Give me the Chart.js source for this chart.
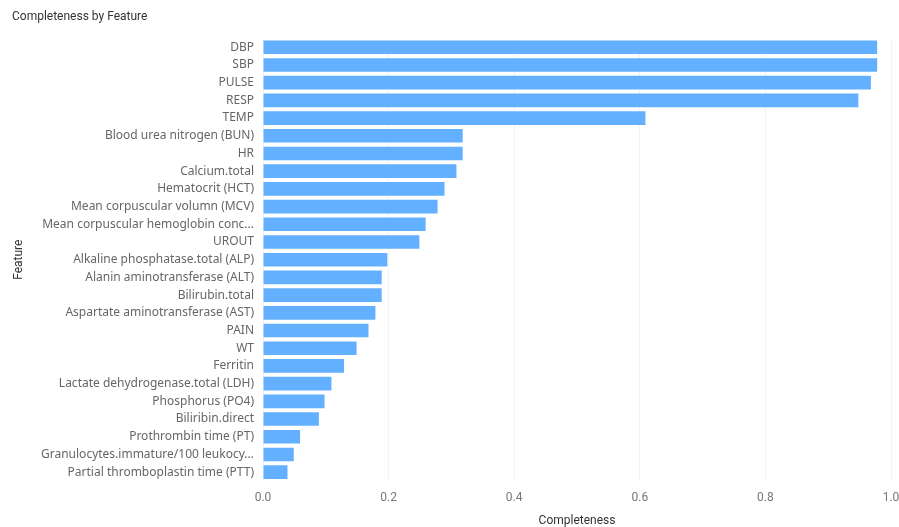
<!DOCTYPE html>
<html>
<head>
<meta charset="utf-8">
<script src="https://cdn.jsdelivr.net/npm/chart.js@4"></script>
<style>
html,body{margin:0;padding:0;background:#fff;}
#wrap{width:899px;height:527px;position:relative;}
</style>
</head>
<body>
<div id="wrap"><canvas id="c" width="899" height="527"></canvas></div>
<script>
const categories = [
  "DBP","SBP","PULSE","RESP","TEMP","Blood urea nitrogen (BUN)","HR","Calcium.total",
  "Hematocrit (HCT)","Mean corpuscular volumn (MCV)","Mean corpuscular hemoglobin conc...",
  "UROUT","Alkaline phosphatase.total (ALP)","Alanin aminotransferase (ALT)","Bilirubin.total",
  "Aspartate aminotransferase (AST)","PAIN","WT","Ferritin","Lactate dehydrogenase.total (LDH)",
  "Phosphorus (PO4)","Biliribin.direct","Prothrombin time (PT)",
  "Granulocytes.immature/100 leukocy...","Partial thromboplastin time (PTT)"
];
const completeness = [
  0.978,0.978,0.968,0.948,0.609,0.318,0.318,0.308,
  0.289,0.278,0.259,
  0.249,0.198,0.189,0.189,
  0.179,0.168,0.149,0.129,0.109,
  0.098,0.089,0.059,
  0.049,0.039
];
const xTicks = [0,0.2,0.4,0.6,0.8,1.0];

new Chart(document.getElementById('c'), {
  type: 'bar',
  data: {
    labels: categories,
    datasets: [{
      label: 'Completeness',
      data: completeness,
      backgroundColor: '#62b0ff',
      borderWidth: 0,
      categoryPercentage: 1.0,
      barPercentage: 0.77
    }]
  },
  options: {
    indexAxis: 'y',
    responsive: false,
    animation: false,
    layout: { padding: { left: 12, right: 0, top: 10, bottom: 0 } },
    plugins: {
      legend: { display: false },
      tooltip: { enabled: false },
      title: {
        display: true,
        text: 'Completeness by Feature',
        align: 'start',
        color: '#333',
        font: { family: 'Roboto', size: 12, weight: 'normal' },
        padding: { top: 0, bottom: 14 }
      }
    },
    scales: {
      x: {
        min: 0, max: 1,
        afterBuildTicks: (s) => { s.ticks = xTicks.map(v => ({ value: v })); },
        afterFit: (s) => { s.paddingRight = 8; },
        ticks: {
          color: '#777',
          font: { family: 'Roboto', size: 12, lineHeight: 1 },
          padding: 11,
          callback: (v) => Number(v).toFixed(1)
        },
        grid: { color: '#f2f2f2', drawTicks: false },
        border: { display: false },
        title: {
          display: true, text: 'Completeness', color: '#333',
          font: { family: 'Roboto', size: 12, lineHeight: 1 }, padding: { top: 0, bottom: 0 }
        }
      },
      y: {
        afterFit: (s) => { s.width = 251; },
        ticks: {
          color: '#666',
          font: { family: 'Noto Sans', size: 12 },
          padding: 9,
          autoSkip: false
        },
        grid: { display: false, drawTicks: false },
        border: { display: false },
        title: {
          display: true, text: 'Feature', color: '#333',
          font: { family: 'Roboto', size: 12 }, padding: { top: 0, bottom: 0 }
        }
      }
    }
  }
});
</script>
</body>
</html>
